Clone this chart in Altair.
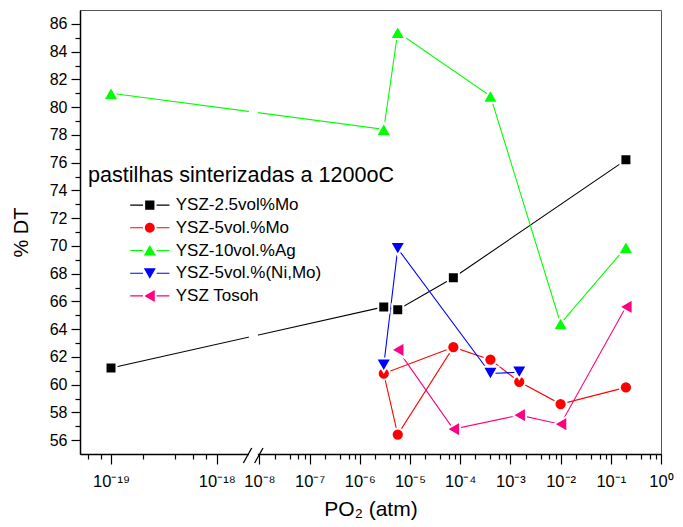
import math
import altair as alt
import pandas as pd

# ---------------- data ----------------
series_names = ["YSZ-2.5vol%Mo", "YSZ-5vol.%Mo", "YSZ-10vol.%Ag", "YSZ-5vol.%(Ni,Mo)", "YSZ Tosoh"]
series_colors = ["#000000", "#FF0000", "#00FF00", "#0000FF", "#FF0080"]
series_shapes = ["square", "circle", "triangle-up", "triangle-down", "triangle-left"]
series_sizes = [121, 150, 240, 240, 240]

po2_mo25 = [1e-19, 3e-6, 5.7e-6, 7.3e-5, 0.2]
dt_mo25 = [61.2, 65.6, 65.4, 67.7, 76.2]

po2_mo5 = [7.3e-5, 3e-6, 5.7e-6, 7.3e-5, 4e-4, 1.5e-3, 1e-2, 0.2]
dt_mo5 = [62.7, 60.8, 56.4, 62.7, 61.8, 60.2, 58.6, 59.8]

po2_ag = [1e-19, 3e-6, 5.7e-6, 4e-4, 1e-2, 0.2]
dt_ag = [81.0, 78.4, 85.4, 80.8, 64.4, 69.9]

po2_nimo = [3e-6, 5.7e-6, 4e-4, 1.5e-3]
dt_nimo = [61.4, 69.8, 60.8, 60.9]

po2_tosoh = [5.7e-6, 7.3e-5, 1.5e-3, 1e-2, 0.2]
dt_tosoh = [62.5, 56.8, 57.8, 57.15, 65.6]

all_po2 = [po2_mo25, po2_mo5, po2_ag, po2_nimo, po2_tosoh]
all_dt = [dt_mo25, dt_mo5, dt_ag, dt_nimo, dt_tosoh]

major_exps = [-19, -18, -8, -7, -6, -5, -4, -3, -2, -1, 0]
minor_mults = [2, 4, 6, 8]
y_major = list(range(56, 87, 2))
y_minor = list(range(57, 86, 2))

legend_title = "pastilhas sinterizadas a 1200oC"
x_title = "PO\u2082 (atm)"
y_title = "% DT"

# ---------------- broken log axis ----------------
# right segment: one unit per decade; left segment (1e-19 .. 1e-18) stretched
LEFT_U0 = -10.956   # position of 1e-19
LEFT_K = 2.106      # stretch of the left segment
U_MIN, U_MAX = -11.574, 0.0
GAP = (-8.21, -8.03)


def to_u(p):
    L = math.log10(p)
    return L if L > -12 else LEFT_U0 + (L + 19) * LEFT_K


rows = []
for name, ps, ds in zip(series_names, all_po2, all_dt):
    for i, (p, d) in enumerate(zip(ps, ds)):
        rows.append({"series": name, "po2": p, "dt": d, "idx": i, "u": round(to_u(p), 5)})
df = pd.DataFrame(rows)

sup = str.maketrans("-0123456789", "\u207b\u2070\u00b9\u00b2\u00b3\u2074\u2075\u2076\u2077\u2078\u2079")
major_u = [round(to_u(10.0 ** e), 4) for e in major_exps]
major_lab = ["10" + str(e).translate(sup) for e in major_exps]
minor_u = []
for k in [-20, -19]:
    for m in minor_mults:
        v = m * 10.0 ** k
        if 5e-20 < v < 1e-18:
            minor_u.append(round(to_u(v), 4))
for k in range(-8, 0):
    for m in minor_mults:
        minor_u.append(round(to_u(m * 10.0 ** k), 4))

label_expr = "''"
for u, lab in reversed(list(zip(major_u, major_lab))):
    label_expr = f"abs(datum.value - ({u})) < 0.001 ? '{lab}' : " + label_expr

FONT = "Liberation Sans"
W, H = 581, 444

xscale = alt.Scale(domain=[U_MIN, U_MAX], nice=False, zero=False)
yscale = alt.Scale(domain=[55, 87], nice=False, zero=False)
color_scale = alt.Scale(domain=series_names, range=series_colors)

x_major_axis = alt.Axis(values=major_u, labelExpr=label_expr, orient="bottom", title=x_title,
                        grid=False, tickSize=10, tickWidth=1.2, tickColor="black",
                        domainColor="black", domainWidth=1.5, labelFont=FONT, labelFontSize=16.5,
                        labelColor="black", labelPadding=9, labelFlush=False, labelOverlap=False,
                        titleFont=FONT, titleFontSize=21, titleFontWeight="normal",
                        titleColor="black", titlePadding=9)
x_minor_axis = alt.Axis(values=minor_u, labels=False, domain=False, grid=False, orient="bottom",
                        tickSize=5, tickWidth=1.2, tickColor="black", title=None)
y_major_axis = alt.Axis(values=y_major, orient="left", title=y_title, grid=False, tickSize=9,
                        tickWidth=1.2, tickColor="black", domainColor="black", domainWidth=1.5,
                        labelFont=FONT, labelFontSize=16, labelColor="black", labelPadding=4,
                        labelFlush=False, labelOverlap=False, titleFont=FONT, titleFontSize=20,
                        titleFontWeight="normal", titleColor="black", titlePadding=18)
y_minor_axis = alt.Axis(values=y_minor, labels=False, domain=False, grid=False, orient="left",
                        tickSize=5, tickWidth=1.2, tickColor="black", title=None)

# legend symbols: line stub - marker - line stub (units of r = sqrt(size)/2 = 8 px)
stubs = "M-2.45,-0.07H-0.85V0.07H-2.45Z M0.85,-0.07H2.45V0.07H0.85Z "
legend_paths = [
    stubs + "M-0.58,-0.58H0.58V0.58H-0.58Z",
    stubs + "M-0.62,0A0.62,0.62 0 1,1 0.62,0A0.62,0.62 0 1,1 -0.62,0Z",
    stubs + "M0,-0.68L0.75,0.62L-0.75,0.62Z",
    stubs + "M0,0.68L0.75,-0.62L-0.75,-0.62Z",
    stubs + "M-0.68,0L0.62,-0.75L0.62,0.75Z",
]
legend = alt.Legend(orient="none", legendX=8, legendY=155, padding=0, title=legend_title,
                    titleFont=FONT, titleFontSize=21.6, titleFontWeight="normal", titleColor="black",
                    titlePadding=10, titleLimit=500, labelFont=FONT, labelFontSize=17,
                    labelColor="black", labelLimit=400, labelOffset=17.4, symbolOffset=53.3,
                    symbolSize=256, symbolStrokeWidth=0, rowPadding=4.7)

line_layers = []
for k, (name, col) in enumerate(zip(series_names, series_colors)):
    line_layers.append(
        alt.Chart(df).transform_filter(alt.datum.series == name)
        .mark_line(strokeWidth=1.1, color=col)
        .encode(
            x=alt.X("u:Q", scale=xscale, axis=x_major_axis if k == 0 else None),
            y=alt.Y("dt:Q", scale=yscale, axis=y_major_axis if k == 0 else None),
            order=alt.Order("idx:Q"),
        )
    )

legend_layer = alt.Chart(df).mark_point(filled=True, size=0, opacity=1).encode(
    x=alt.X("u:Q", scale=xscale, axis=x_minor_axis),
    y=alt.Y("dt:Q", scale=yscale, axis=y_minor_axis),
    color=alt.Color("series:N", scale=color_scale, legend=legend),
    shape=alt.Shape("series:N", scale=alt.Scale(domain=series_names, range=legend_paths), legend=legend),
)

point_layers = []
for name, col, shp, sz in zip(series_names, series_colors, series_shapes, series_sizes):
    point_layers.append(
        alt.Chart(df).transform_filter(alt.datum.series == name)
        .mark_point(shape=shp, filled=True, fill=col, stroke="white", strokeWidth=2, size=sz, opacity=1)
        .encode(x=alt.X("u:Q", scale=xscale, axis=None), y=alt.Y("dt:Q", scale=yscale, axis=None))
    )

one = pd.DataFrame({"k": [0]})
gap = alt.Chart(one).mark_rect(color="white").encode(
    x=alt.X(datum=GAP[0], type="quantitative", scale=xscale, axis=None),
    x2=alt.X2(datum=GAP[1]),
    y=alt.value(1), y2=alt.value(H + 2),
)
slash_layers = []
for lo in (GAP[0] - 0.11, GAP[1] - 0.065):
    slash_layers.append(
        alt.Chart(one).mark_rule(color="black", strokeWidth=1.3).encode(
            x=alt.X(datum=lo, type="quantitative", scale=xscale, axis=None),
            x2=alt.X2(datum=lo + 0.167),
            y=alt.value(H + 9), y2=alt.value(H - 6),
        )
    )

chart = alt.layer(*line_layers, legend_layer, *point_layers, gap, *slash_layers).resolve_axis(
    x="independent", y="independent"
).properties(
    width=W, height=H,
    padding={"left": 80, "top": 10, "right": 22, "bottom": 73},
    autosize=alt.AutoSizeParams(type="none"),
).configure_view(stroke="#555555", strokeWidth=1)

chart.save("out.html", embed_options={"renderer": "svg", "actions": False})
